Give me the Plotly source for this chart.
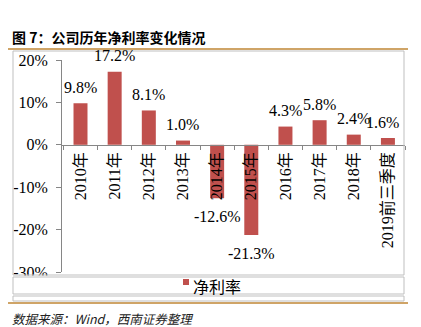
import plotly.graph_objects as go

categories = ["2010年", "2011年", "2012年", "2013年", "2014年", "2015年",
              "2016年", "2017年", "2018年", "2019前三季度"]
net_margin = [9.8, 17.2, 8.1, 1.0, -12.6, -21.3, 4.3, 5.8, 2.4, 1.6]
series_name = "净利率"
y_ticks = [-30, -20, -10, 0, 10, 20]
y_tick_labels = ["-30%", "-20%", "-10%", "0%", "10%", "20%"]
title_text = "图 7：公司历年净利率变化情况"
source_text = "数据来源：Wind，西南证券整理"

W, H = 421, 327
L, R, T, B = 62, 405, 60, 272  # plot area in pixels
pw, ph = R - L, B - T
y_min, y_max = min(y_ticks), max(y_ticks)


def xp(px):
    return (px - L) / pw


def yp(py):
    return (B - py) / ph


BAR_COLOR = "#C0504D"
AXIS_COLOR = "#868686"
FRAME_COLOR = "#BFBFBF"
GOLD = "#CFA467"
SERIF = "Liberation Serif, Noto Sans CJK SC"

fig = go.Figure()
fig.add_trace(go.Bar(x=categories, y=net_margin, name=series_name,
                     marker=dict(color=BAR_COLOR, line=dict(width=0)),
                     showlegend=False))

annotations = []
for i, (c, v) in enumerate(zip(categories, net_margin)):
    annotations.append(dict(
        x=c, y=v, xref="x", yref="y", text=f"{v:.1f}%", showarrow=False,
        yanchor="middle", xanchor="center",
        yshift=16 if v >= 0 else -18,
        xshift=-5 if i == len(categories) - 1 else 0,
        font=dict(family=SERIF, size=16, color="#000000")))

annotations.append(dict(
    x=xp(10), y=yp(37), xref="paper", yref="paper", text=f"<b>{title_text}</b>",
    showarrow=False, xanchor="left", yanchor="middle",
    font=dict(family="Noto Sans CJK SC", size=14, color="#000000")))
annotations.append(dict(
    x=xp(10), y=yp(318), xref="paper", yref="paper", text=source_text,
    showarrow=False, xanchor="left", yanchor="middle",
    font=dict(family="Noto Sans CJK SC", size=12.5, color="#222222", style="italic")))
# manual legend text
annotations.append(dict(
    x=xp(191), y=yp(286), xref="paper", yref="paper", text=series_name,
    showarrow=False, xanchor="left", yanchor="middle",
    font=dict(family="Noto Sans CJK SC", size=16, color="#000000")))

shapes = [
    # white mask below the chart frame (clips the lowest tick label like the original)
    dict(type="rect", xref="paper", yref="paper", x0=xp(0), x1=xp(421),
         y0=yp(296), y1=yp(275.5), line=dict(width=0), fillcolor="white", layer="above"),
    dict(type="line", xref="paper", yref="paper", x0=xp(8), x1=xp(408),
         y0=yp(49), y1=yp(49), line=dict(color=GOLD, width=2)),
    dict(type="line", xref="paper", yref="paper", x0=xp(8), x1=xp(408),
         y0=yp(303), y1=yp(303), line=dict(color=GOLD, width=2)),
    dict(type="rect", xref="paper", yref="paper", x0=xp(13), x1=xp(404),
         y0=yp(275), y1=yp(51), line=dict(color=FRAME_COLOR, width=1), layer="above"),
    dict(type="rect", xref="paper", yref="paper", x0=xp(13), x1=xp(404),
         y0=yp(294), y1=yp(277), line=dict(color=FRAME_COLOR, width=1), layer="above"),
    dict(type="rect", xref="paper", yref="paper", x0=xp(13), x1=xp(404),
         y0=yp(301), y1=yp(296), line=dict(color=FRAME_COLOR, width=1), layer="above"),
    dict(type="rect", xref="paper", yref="paper", x0=xp(183), x1=xp(189),
         y0=yp(285), y1=yp(279), line=dict(width=0), fillcolor=BAR_COLOR, layer="above"),
]

fig.update_layout(
    width=W, height=H, autosize=False,
    margin=dict(l=L, r=W - R, t=T, b=H - B, pad=0),
    paper_bgcolor="white", plot_bgcolor="white",
    font=dict(family=SERIF),
    bargap=0.59,
    annotations=annotations, shapes=shapes,
)
fig.update_xaxes(type="category", anchor="free",
                 position=(0 - y_min) / (y_max - y_min),
                 showline=True, linecolor=AXIS_COLOR, linewidth=1,
                 ticks="outside", tickson="boundaries", ticklen=4,
                 tickcolor=AXIS_COLOR, tickangle=-90, showgrid=False,
                 tickfont=dict(family=SERIF, size=16, color="#000000"))
fig.update_yaxes(range=[y_min, y_max], tickmode="array", tickvals=y_ticks,
                 ticktext=y_tick_labels,
                 showline=True, linecolor=AXIS_COLOR, linewidth=1,
                 ticks="outside", ticklen=5, tickcolor=AXIS_COLOR,
                 showgrid=False, zeroline=False, ticklabelstandoff=5,
                 tickfont=dict(family="Liberation Serif", size=16, color="#000000"))

fig.write_html("out.html")
